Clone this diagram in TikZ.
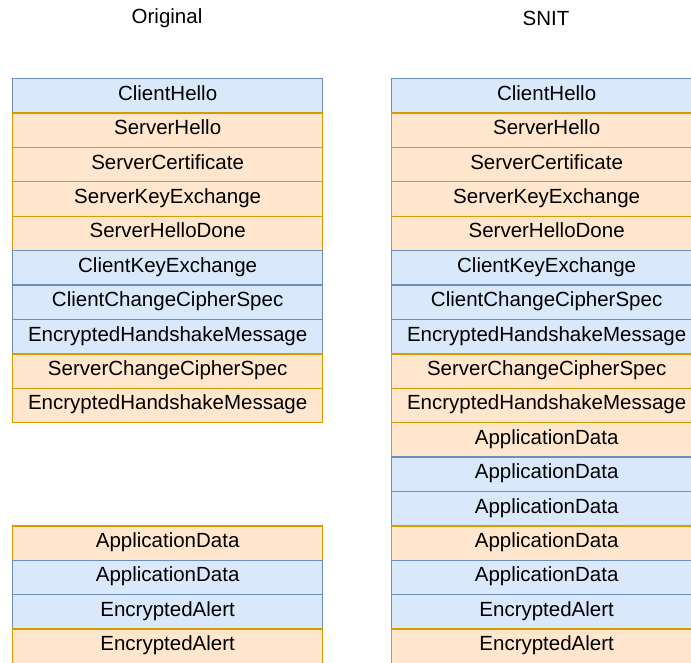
\documentclass[tikz,border=0pt]{standalone}
\usepackage{fontspec}
\setmainfont{Liberation Sans}
\definecolor{cfill}{HTML}{DAE8FC}
\definecolor{cline}{HTML}{6C8EBF}
\definecolor{sfill}{HTML}{FFE6CC}
\definecolor{sline}{HTML}{D79B00}
\tikzset{
  msg/.style={anchor=north west, minimum width=310pt, minimum height=34.4pt,
    inner sep=0pt, text height=14pt, text depth=5pt, line width=1.3pt,
    font=\fontsize{20.5}{24}\selectfont},
  cli/.style={msg, fill=cfill, draw=cline},
  srv/.style={msg, fill=sfill, draw=sline},
  title/.style={font=\fontsize{20.5}{24}\selectfont, inner sep=0pt}
}
\begin{document}
\begin{tikzpicture}[x=1pt, y=-1pt]
\useasboundingbox (0,0) rectangle (691,663);
\clip (0,0) rectangle (691,663);
\node[title] (tOrig) at (167,18.5) {Original};
\node[title] (tSnit) at (546,18.5) {SNIT};
% original handshake
\foreach \i/\s/\t in {0/cli/ClientHello, 1/srv/ServerHello, 2/srv/ServerCertificate,
  3/srv/ServerKeyExchange, 4/srv/ServerHelloDone, 5/cli/ClientKeyExchange,
  6/cli/ClientChangeCipherSpec, 7/cli/EncryptedHandshakeMessage,
  8/srv/ServerChangeCipherSpec, 9/srv/EncryptedHandshakeMessage,
  13/srv/ApplicationData, 14/cli/ApplicationData, 15/cli/EncryptedAlert,
  16/srv/EncryptedAlert}
  \node[\s] (l\i) at (12,78+34.4*\i) {\t};
% SNIT handshake
\foreach \i/\s/\t in {0/cli/ClientHello, 1/srv/ServerHello, 2/srv/ServerCertificate,
  3/srv/ServerKeyExchange, 4/srv/ServerHelloDone, 5/cli/ClientKeyExchange,
  6/cli/ClientChangeCipherSpec, 7/cli/EncryptedHandshakeMessage,
  8/srv/ServerChangeCipherSpec, 9/srv/EncryptedHandshakeMessage,
  10/srv/ApplicationData, 11/cli/ApplicationData, 12/cli/ApplicationData,
  13/srv/ApplicationData, 14/cli/ApplicationData, 15/cli/EncryptedAlert,
  16/srv/EncryptedAlert}
  \node[\s] (r\i) at (391,78+34.4*\i) {\t};
\end{tikzpicture}
\end{document}
